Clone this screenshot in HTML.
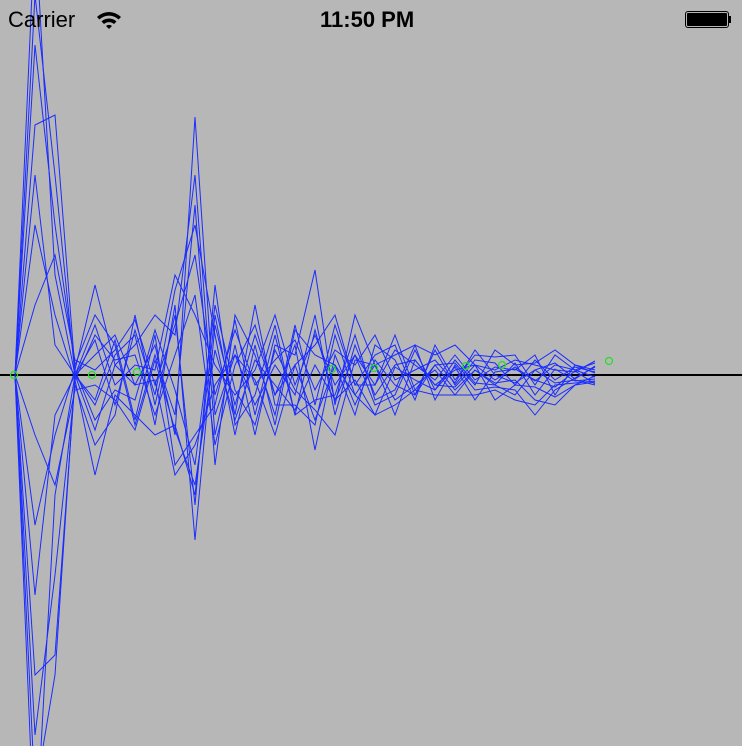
<!DOCTYPE html>
<html><head><meta charset="utf-8"><style>
html,body{margin:0;padding:0;background:#b7b7b7;width:742px;height:746px;overflow:hidden}
svg{position:absolute;left:0;top:0;overflow:hidden}
.sb{position:absolute;font-family:"Liberation Sans",sans-serif;font-size:22px;color:#000;top:7px}
</style></head><body>
<svg width="742" height="746">
<defs><clipPath id="cp"><rect x="0" y="0" width="742" height="746"/></clipPath></defs>
<line x1="0" y1="375" x2="742" y2="375" stroke="#000" stroke-width="2"/>
<g id="series" clip-path="url(#cp)"></g>
<g id="marks"></g>
</svg>
<div class="sb" style="left:8px">Carrier</div>
<svg width="26" height="20" style="left:96px;top:10px" viewBox="0 0 26 20">
<path d="M1 7 A17 17 0 0 1 25 7 L22.5 9.5 A13.5 13.5 0 0 0 3.5 9.5Z" fill="#000"/>
<path d="M5.5 11.5 A11 11 0 0 1 20.5 11.5 L18 14 A7.5 7.5 0 0 0 8 14Z" fill="#000"/>
<path d="M10 16 A4.5 4.5 0 0 1 16 16 L13 19Z" fill="#000"/></svg>
<div class="sb" style="left:320px;font-weight:bold">11:50 PM</div>
<div style="position:absolute;left:685px;top:11px;width:44px;height:17px;border:1px solid #000;border-radius:3px;box-sizing:border-box;padding:1px"><div style="background:#000;width:100%;height:100%;border-radius:1px"></div></div>
<div style="position:absolute;left:729px;top:16px;width:2px;height:7px;background:#000"></div>
<script>
const xs=[15,35,55,75,95,115,135,155,175,195,215,235,255,275,295,315,335,355,375,395,415,435,455,475,495,515,535,555,575,595];
const s1=[0,380,200,0,20,40,-10,30,-60,258,-40,20,-30,10,-20,60,-40,30,-20,10,15,-10,5,10,-5,8,-6,10,5,12];
const s2=[0,-420,-300,0,-30,20,40,-50,70,-165,50,-30,40,-20,30,-75,20,-30,15,-10,-20,10,-15,5,-10,-20,5,-8,-5,-10];
const s3=[0,330,150,10,60,30,-50,20,-40,170,-90,60,20,-40,50,-30,50,-10,20,30,-20,25,-10,15,12,-10,15,-5,8,3];
const s4=[0,-360,-200,-10,-70,-40,60,-30,60,-130,90,-50,-20,50,-40,45,-25,20,-30,-20,25,-15,15,-8,-10,12,-20,6,-6,-4];
const s5=[0,250,260,5,90,10,30,60,40,200,-60,30,-60,30,20,105,-30,60,10,20,30,20,30,10,5,15,10,5,3,14];
const s6=[0,-300,-280,-5,-100,-20,-40,-60,-50,-120,60,-40,70,-30,-30,-50,40,-20,-40,-30,-15,-20,-20,-20,-15,-25,-30,-10,-8,-6];
const s7=[0,450,100,0,35,-30,45,-20,85,150,40,-60,30,-50,45,20,10,-40,30,15,-25,30,-5,20,18,20,-10,20,5,-2];
const s8=[0,-480,-120,0,-25,35,-45,40,-90,-60,-30,55,-40,40,-40,-25,-20,40,-25,-15,30,-25,10,-15,-12,-15,-40,-15,-3,8];
const s9=[0,150,60,-5,40,15,20,-40,20,80,-70,10,50,-20,10,30,60,-10,-10,25,10,-5,20,-5,8,5,20,-20,10,5];
const s10=[0,-150,-60,5,-45,-15,-25,45,-15,-90,70,-15,-50,25,-15,-35,-60,15,10,-25,-10,5,-20,5,-8,-5,-25,-30,-10,-7];
const s11=[0,70,120,15,5,25,55,-10,50,120,-20,45,-10,15,35,-15,25,10,40,-5,5,15,-8,25,0,-8,5,12,-4,9];
const s12=[0,-60,-110,-15,-10,-25,-55,15,-55,-110,25,-45,15,-10,-35,10,-25,-5,-40,8,-5,-15,8,-25,3,6,-5,-12,4,-9];
const s13=[0,200,30,0,50,-10,10,5,100,60,10,-20,5,60,-10,40,-10,20,-10,40,-15,10,12,-10,25,10,12,25,10,2];
const s14=[0,-220,-40,0,-55,10,-10,-5,-100,-70,-10,20,-5,-60,10,-45,10,-20,10,-40,15,-10,-12,10,-25,-10,-12,-22,-10,-1];
const series=[s1,s2,s3,s4,s5,s6,s7,s8,s9,s10,s11,s12,s13,s14];
const markX=[14,92,137,332,374,466,502,609];
const markV=[0,0,3,6,7,9,10,14];
const xScale=i=>xs[i];
const yScale=v=>375-v;
const g=document.getElementById('series');
series.forEach((s,k)=>{
  const p=document.createElementNS('http://www.w3.org/2000/svg','polyline');
  p.setAttribute('points',s.map((v,i)=>xScale(i)+','+yScale(v)).join(' '));
  p.setAttribute('fill','none');p.setAttribute('stroke','#1a2cff');p.setAttribute('stroke-width','1');
  
  
  g.appendChild(p);
});
const m=document.getElementById('marks');
markX.forEach((x,i)=>{
  const c=document.createElementNS('http://www.w3.org/2000/svg','circle');
  c.setAttribute('cx',x);c.setAttribute('cy',yScale(markV[i]));c.setAttribute('r','3.5');
  c.setAttribute('fill','none');c.setAttribute('stroke','#22e022');c.setAttribute('stroke-width','1.2');
  
  
  m.appendChild(c);
});
</script>
</body></html>
